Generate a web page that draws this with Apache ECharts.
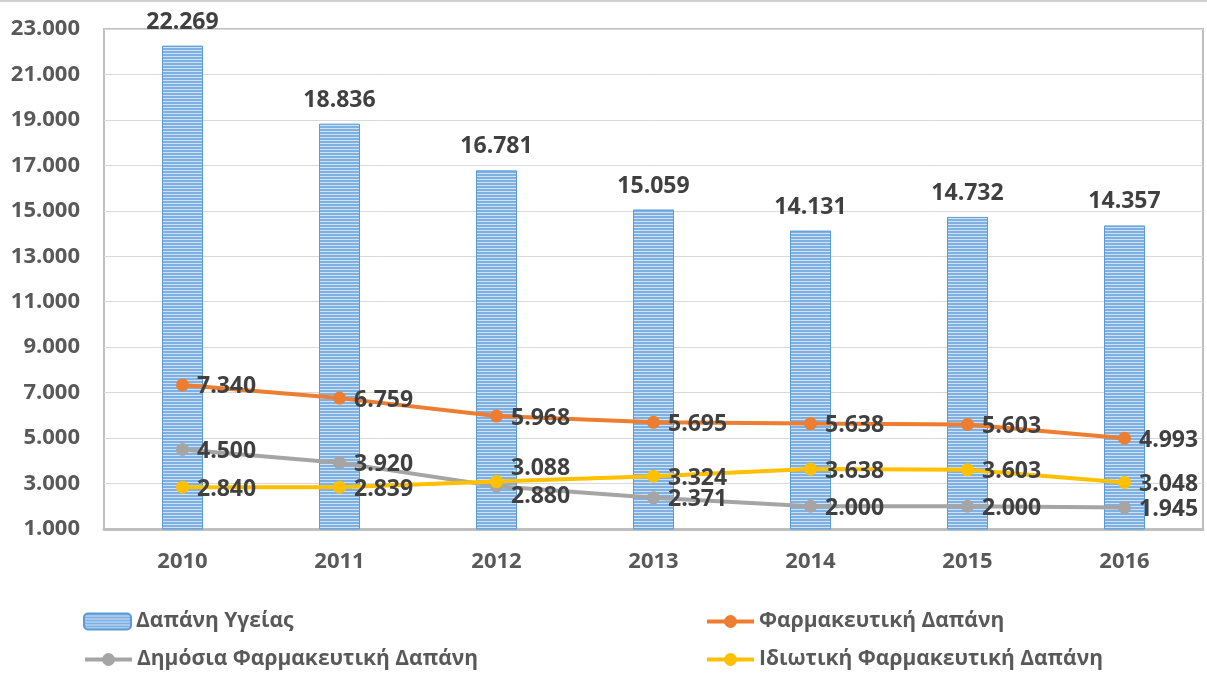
<!DOCTYPE html>
<html>
<head>
<meta charset="utf-8">
<script src="https://cdn.jsdelivr.net/npm/echarts@6/dist/echarts.min.js"></script>
<style>
html,body{margin:0;padding:0;background:#fff;}
#c{width:1207px;height:673px;}
</style>
</head>
<body>
<div id="c"></div>
<script>
const categories = ['2010','2011','2012','2013','2014','2015','2016'];
const healthSpending = [22269, 18836, 16781, 15059, 14131, 14732, 14357];
const pharmaSpending = [7340, 6759, 5968, 5695, 5638, 5603, 4993];
const publicPharmaSpending = [4500, 3920, 2880, 2371, 2000, 2000, 1945];
const privatePharmaSpending = [2840, 2839, 3088, 3324, 3638, 3603, 3048];
const seriesNames = ['Δαπάνη Υγείας', 'Φαρμακευτική Δαπάνη', 'Δημόσια Φαρμακευτική Δαπάνη', 'Ιδιωτική Φαρμακευτική Δαπάνη'];

function fmt(v){
  return String(Math.round(v)).replace(/\B(?=(\d{3})+(?!\d))/g, '.');
}

// striped pattern for bars
const pc = document.createElement('canvas');
pc.width = 8; pc.height = 3;
const pctx = pc.getContext('2d');
pctx.fillStyle = '#7eb0e1'; pctx.fillRect(0,0,8,2);
pctx.fillStyle = '#cfe2f5'; pctx.fillRect(0,2,8,1);
const barPattern = {image: pc, repeat: 'repeat'};

const FONT = '"Open Sans", "DejaVu Sans", sans-serif';

function lineData(values, offsets){
  return values.map((v, i) => {
    const o = offsets[i] || [0, 2];
    return {value: v, label: {offset: o}};
  });
}

function lineSeries(name, values, color, offsets){
  return {
    name: name,
    type: 'line',
    data: lineData(values, offsets),
    symbol: 'circle',
    symbolSize: 13,
    lineStyle: {color: color, width: 4},
    itemStyle: {color: color},
    label: {
      show: true, position: 'right', distance: 8,
      formatter: p => fmt(p.value),
      color: '#404040', fontFamily: FONT, fontWeight: 'bold', fontSize: 23
    },
    emphasis: {disabled: true}
  };
}

const legendText = {color: '#595959', fontFamily: FONT, fontWeight: 'bold', fontSize: 21};
function legendAt(name, left, top){
  return {data: [name], left: left, top: top, itemWidth: 47, itemHeight: 16,
    lineStyle: {width: 4}, textStyle: legendText};
}

const chart = echarts.init(document.getElementById('c'), null, {renderer: 'canvas'});
chart.setOption({
  animation: false,
  backgroundColor: '#fff',
  grid: {left: 104, right: 4, top: 29, bottom: 144, show: true, borderColor: '#bfbfbf', borderWidth: 2, containLabel: false},
  xAxis: {
    type: 'category', data: categories,
    axisLine: {show: true, lineStyle: {color: '#bfbfbf', width: 3}},
    axisTick: {show: false},
    axisLabel: {color: '#595959', fontFamily: FONT, fontWeight: 'bold', fontSize: 22, margin: 22}
  },
  yAxis: {
    type: 'value', min: 1000, max: 23000, interval: 2000,
    axisLine: {show: false}, axisTick: {show: false},
    splitLine: {lineStyle: {color: '#d9d9d9', width: 1}},
    axisLabel: {color: '#595959', fontFamily: FONT, fontWeight: 'bold', fontSize: 22, margin: 24, formatter: v => fmt(v)}
  },
  legend: [
    legendAt(seriesNames[0], 78, 606),
    legendAt(seriesNames[2], 78, 644),
    legendAt(seriesNames[1], 700, 606),
    legendAt(seriesNames[3], 700, 644)
  ],
  graphic: [
    {type: 'line', shape: {x1: 0, y1: 1, x2: 1207, y2: 1}, style: {stroke: '#d0d0d0', lineWidth: 2}, silent: true}
  ],
  series: [
    {
      name: seriesNames[0], type: 'bar', data: healthSpending, barWidth: 41,
      itemStyle: {color: barPattern, borderColor: '#5b9bd5', borderWidth: 1},
      label: {show: true, position: 'top', distance: 12, formatter: p => fmt(p.value),
        color: '#404040', fontFamily: FONT, fontWeight: 'bold', fontSize: 23},
      emphasis: {disabled: true}
    },
    lineSeries(seriesNames[1], pharmaSpending, '#ed7d31', {}),
    lineSeries(seriesNames[2], publicPharmaSpending, '#a5a5a5', {2: [0, 10]}),
    lineSeries(seriesNames[3], privatePharmaSpending, '#ffc000', {2: [0, -13]})
  ]
});
</script>
</body>
</html>
